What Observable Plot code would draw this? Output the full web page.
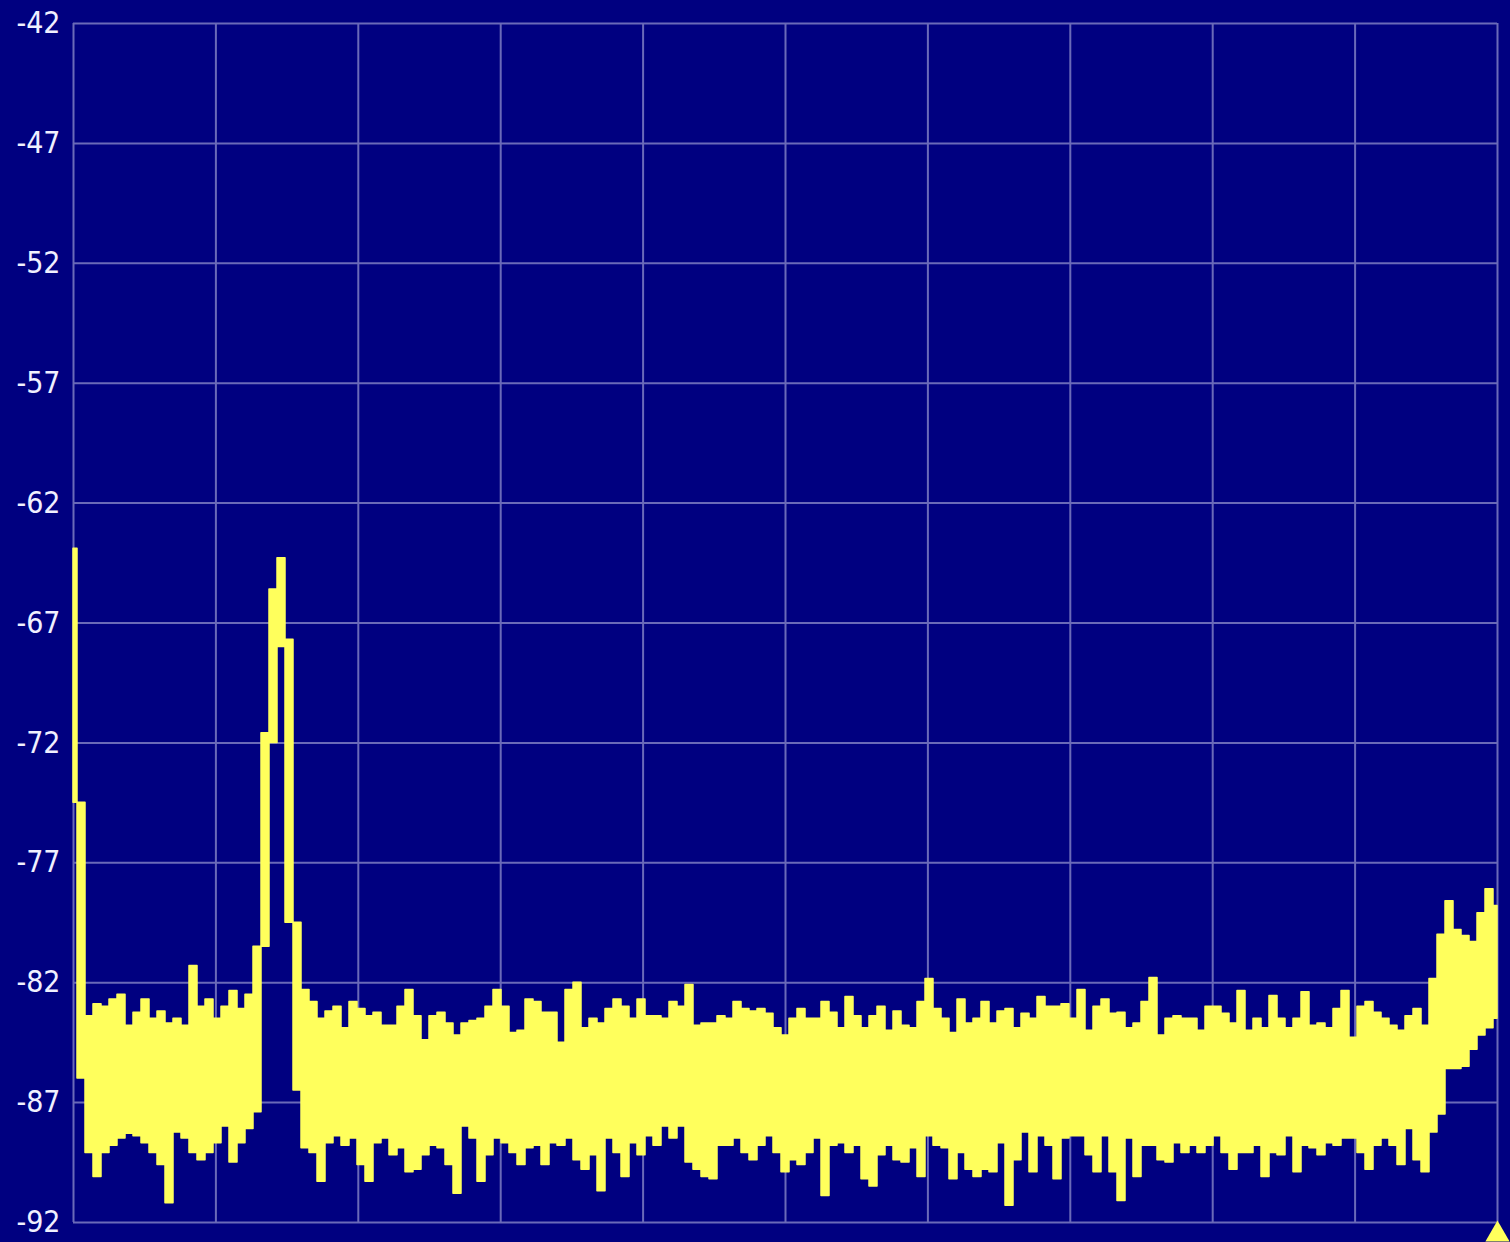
<!DOCTYPE html>
<html>
<head>
<meta charset="utf-8">
<script src="https://cdn.jsdelivr.net/npm/d3@7"></script>
<script src="https://cdn.jsdelivr.net/npm/@observablehq/plot@0.6"></script>
<style>
  html, body { margin: 0; padding: 0; background: #000080; overflow: hidden; }
  #chart svg { display: block; }
</style>
</head>
<body>
<div id="chart"></div>
<script>
// Spectrum trace: upper (max) and lower (min) envelope per frequency bin, in dB
const upper = [
  -63.9,-74.5,-83.4,-82.9,-83.0,-82.7,-82.5,-83.8,-83.25,-82.7,
  -83.5,-83.2,-83.7,-83.5,-83.8,-81.3,-83.0,-82.7,-83.5,-83.0,
  -82.35,-83.1,-82.5,-80.5,-71.6,-65.6,-64.3,-67.7,-79.5,-82.3,
  -82.8,-83.5,-83.2,-83.0,-83.9,-82.8,-83.1,-83.4,-83.25,-83.8,
  -83.8,-83.0,-82.3,-83.4,-84.4,-83.4,-83.25,-83.7,-84.2,-83.7,
  -83.6,-83.5,-83.0,-82.3,-83.0,-84.1,-84.0,-82.7,-82.8,-83.25,
  -83.25,-84.5,-82.3,-82.0,-83.9,-83.5,-83.7,-83.1,-82.7,-83.0,
  -83.5,-82.7,-83.4,-83.4,-83.5,-82.8,-83.0,-82.1,-83.8,-83.7,
  -83.7,-83.4,-83.5,-82.8,-83.1,-83.2,-83.1,-83.3,-83.9,-84.2,
  -83.5,-83.1,-83.5,-83.5,-82.8,-83.25,-83.9,-82.6,-83.4,-83.9,
  -83.4,-83.0,-84.0,-83.2,-83.8,-83.9,-82.8,-81.85,-83.1,-83.5,
  -84.1,-82.7,-83.7,-83.5,-82.8,-83.7,-83.2,-83.1,-83.9,-83.3,
  -83.5,-82.6,-83.0,-83.0,-82.9,-83.5,-82.3,-84.0,-83.0,-82.7,
  -83.3,-83.25,-83.9,-83.7,-82.8,-81.8,-84.2,-83.5,-83.4,-83.5,
  -83.5,-84.0,-83.0,-83.0,-83.3,-83.7,-82.35,-84.0,-83.5,-83.9,
  -82.55,-83.5,-83.9,-83.5,-82.4,-83.8,-83.7,-83.9,-83.1,-82.35,
  -84.3,-83.0,-82.8,-83.25,-83.5,-83.8,-84.0,-83.4,-83.1,-83.8,
  -81.85,-80.0,-78.6,-79.8,-80.05,-80.3,-79.1,-78.1,-78.8
];
const lower = [
  -74.5,-86.0,-89.1,-90.1,-89.1,-88.8,-88.5,-88.3,-88.4,-88.7,
  -89.1,-89.6,-91.2,-88.25,-88.5,-89.1,-89.4,-89.1,-88.7,-88.0,
  -89.5,-88.7,-88.1,-87.4,-80.5,-72.0,-68.0,-79.5,-86.5,-88.9,
  -89.1,-90.3,-88.7,-88.4,-88.8,-88.5,-89.6,-90.3,-88.7,-88.5,
  -89.2,-88.9,-89.9,-89.8,-89.2,-88.8,-88.9,-89.6,-90.8,-88.0,
  -88.5,-90.3,-89.2,-88.5,-88.7,-89.1,-89.6,-88.9,-88.8,-89.6,
  -88.7,-88.8,-88.5,-89.4,-89.8,-89.2,-90.7,-88.5,-89.1,-90.1,
  -88.7,-89.2,-88.4,-88.8,-88.0,-88.5,-88.0,-89.5,-89.8,-90.1,
  -90.2,-88.8,-88.8,-88.5,-89.1,-89.4,-88.8,-88.4,-89.1,-89.9,
  -89.4,-89.6,-89.1,-88.5,-90.9,-88.8,-88.7,-89.1,-88.8,-90.2,
  -90.5,-89.2,-88.8,-89.4,-89.5,-88.9,-90.1,-88.4,-88.8,-88.9,
  -90.2,-89.1,-89.8,-90.1,-89.8,-89.9,-88.7,-91.3,-89.4,-88.25,
  -89.9,-88.4,-88.8,-90.2,-88.5,-88.4,-88.4,-89.2,-89.9,-88.4,
  -89.9,-91.1,-88.5,-90.1,-88.8,-88.8,-89.4,-89.5,-88.7,-89.1,
  -88.8,-89.1,-88.8,-88.4,-89.1,-89.8,-89.1,-89.1,-88.8,-90.1,
  -89.1,-89.2,-88.4,-89.9,-88.8,-88.9,-89.2,-88.7,-88.8,-88.5,
  -88.5,-89.1,-89.8,-88.8,-88.5,-88.8,-89.6,-88.1,-89.4,-89.9,
  -88.25,-87.5,-85.6,-85.6,-85.5,-84.8,-84.2,-83.9,-83.5
];
const yTicks = [-42, -47, -52, -57, -62, -67, -72, -77, -82, -87, -92];
const divisions = 10;
const bins = upper.length - 1;            // frequency bins 0..178
const marker = [{bin: bins}];             // span marker at right edge

const data = upper.map((u, i) => ({bin: i, hi: u, lo: lower[i]}));
const xGrid = d3.range(divisions + 1).map(i => i * bins / divisions);

const chart = Plot.plot({
  width: 1510,
  height: 1242,
  marginLeft: 73,
  marginRight: 13,
  marginTop: 23,
  marginBottom: 20,
  style: {background: "#000080", overflow: "visible"},
  x: {domain: [0, bins], axis: null},
  y: {domain: [-92, -42]},
  marks: [
    Plot.ruleY(yTicks, {stroke: "#6a6ab8", strokeWidth: 2}),
    Plot.ruleX(xGrid, {stroke: "#6a6ab8", strokeWidth: 2}),
    Plot.areaY(data, {x: "bin", y1: "lo", y2: "hi", curve: "step", fill: "#ffff5c", stroke: "#ffff5c", strokeWidth: 1.5}),
    Plot.axisY({
      ticks: yTicks, tickSize: 0, tickPadding: 13, label: null,
      tickFormat: d => String(d),
      fill: "#f0f0ff", fontSize: 30,
      fontFamily: "'Liberation Sans Narrow', 'DejaVu Sans Condensed', 'Liberation Sans', sans-serif"
    }),
    Plot.dot(marker, {x: "bin", y: () => -92.5, symbol: "triangle", r: 9, fill: "#ffff5c", clip: false})
  ]
});
document.getElementById("chart").appendChild(chart);
</script>
</body>
</html>
